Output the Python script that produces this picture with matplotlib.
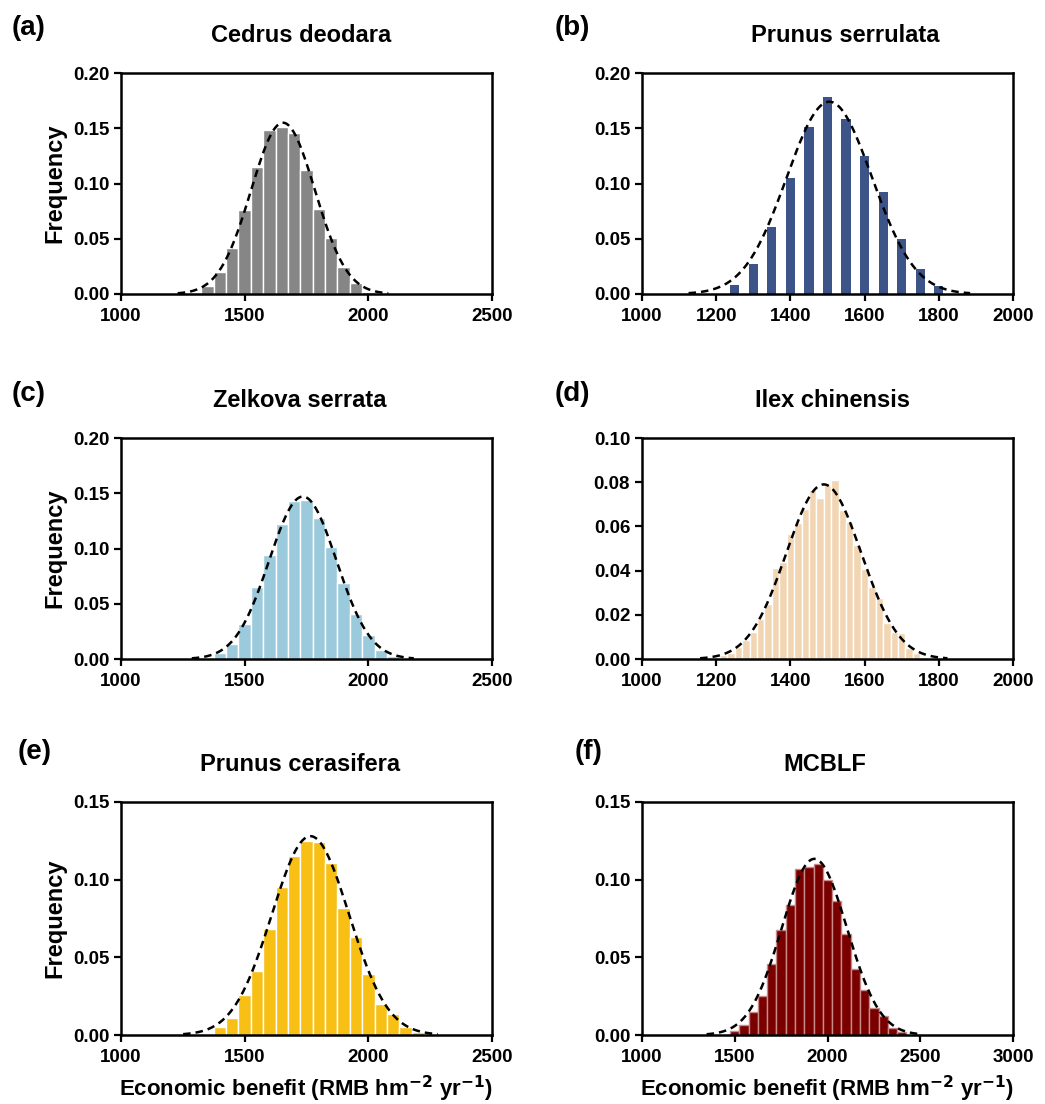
import numpy as np
import matplotlib.pyplot as plt
from matplotlib.ticker import FormatStrFormatter

plt.rcParams['font.family'] = ['Liberation Sans', 'DejaVu Sans']
plt.rcParams['font.weight'] = 'bold'
plt.rcParams['mathtext.default'] = 'bf'

# bin centres and frequencies
a_x = [1350, 1400, 1450, 1500, 1550, 1600, 1650, 1700, 1750, 1800, 1850, 1900, 1950, 2000]
a_y = [0.007, 0.020, 0.042, 0.076, 0.115, 0.148, 0.151, 0.146, 0.112, 0.077, 0.051, 0.024, 0.010, 0.002]

b_x = [1250, 1300, 1350, 1400, 1450, 1500, 1550, 1600, 1650, 1700, 1750, 1800]
b_y = [0.008, 0.027, 0.061, 0.105, 0.151, 0.178, 0.158, 0.125, 0.092, 0.050, 0.023, 0.007]

c_x = [1400, 1450, 1500, 1550, 1600, 1650, 1700, 1750, 1800, 1850, 1900, 1950, 2000, 2050, 2100]
c_y = [0.005, 0.014, 0.032, 0.065, 0.094, 0.122, 0.143, 0.144, 0.128, 0.101, 0.069, 0.041, 0.022, 0.008, 0.003]

d_x = [1220, 1240, 1260, 1280, 1300, 1320, 1340, 1360, 1380, 1400, 1420, 1440, 1460, 1480,
       1500, 1520, 1540, 1560, 1580, 1600, 1620, 1640, 1660, 1680, 1700, 1720, 1740, 1760]
d_y = [0.002, 0.0026, 0.0056, 0.0086, 0.012, 0.018, 0.025, 0.041, 0.044, 0.0566, 0.0615, 0.068, 0.0766, 0.0728,
       0.0789, 0.0808, 0.0675, 0.0622, 0.0517, 0.0406, 0.0325, 0.0275, 0.0162, 0.012, 0.0116, 0.0048, 0.0026, 0.001]

e_x = [1400, 1450, 1500, 1550, 1600, 1650, 1700, 1750, 1800, 1850, 1900, 1950, 2000, 2050, 2100, 2150, 2200]
e_y = [0.005, 0.011, 0.026, 0.041, 0.068, 0.095, 0.115, 0.125, 0.124, 0.111, 0.082, 0.063, 0.039, 0.020, 0.0135, 0.0054, 0.002]

f_x = [1500, 1550, 1600, 1650, 1700, 1750, 1800, 1850, 1900, 1950, 2000, 2050, 2100, 2150, 2200, 2250, 2300, 2350, 2400]
f_y = [0.0026, 0.0065, 0.0147, 0.0254, 0.0455, 0.0677, 0.084, 0.107, 0.108, 0.110, 0.0998, 0.0862, 0.0649, 0.0422,
       0.0289, 0.0177, 0.012, 0.0043, 0.0017]

# gaussian fit (peak, mean, sd) of the dashed curves
fits = [(0.155, 1655, 129), (0.174, 1505, 115), (0.147, 1735, 136),
        (0.079, 1490, 101), (0.128, 1766, 156), (0.1134, 1929, 176)]

titles = ['Cedrus deodara', 'Prunus serrulata', 'Zelkova serrata',
          'Ilex chinensis', 'Prunus cerasifera', 'MCBLF']
tags = ['(a)', '(b)', '(c)', '(d)', '(e)', '(f)']
colors = ['#868686', '#3C5488', '#9CCADD', '#F2D5B3', '#F8BF14', '#7A0000']

xs = [a_x, b_x, c_x, d_x, e_x, f_x]
ys = [a_y, b_y, c_y, d_y, e_y, f_y]
widths = [50, 25, 50, 20, 50, 50]
edges = ['white', 'white', 'white', 'white', 'white', '#C98A8A']
xlims = [(1000, 2500), (1000, 2000), (1000, 2500), (1000, 2000), (1000, 2500), (1000, 3000)]
xsteps = [500, 200, 500, 200, 500, 500]
ylims = [0.20, 0.20, 0.20, 0.10, 0.15, 0.15]
ysteps = [0.05, 0.05, 0.05, 0.02, 0.05, 0.05]

W, H = 1045, 1104
col_left = [121, 642]
rows = [(73, 294), (438, 659), (802, 1035)]
tag_pos = [(12, 28), (555, 28), (12, 394), (555, 394), (18, 752), (575, 752)]
title_x = [301, 845, 300, 832, 300, 825]

fig = plt.figure(figsize=(W / 100, H / 100), dpi=100)

for i in range(6):
    r, c = i // 2, i % 2
    top, bot = rows[r]
    ax = fig.add_axes([col_left[c] / W, 1 - bot / H, 371 / W, (bot - top) / H])

    ax.bar(xs[i], ys[i], width=widths[i], color=colors[i], edgecolor=edges[i],
           linewidth=1.0 if i != 1 else 0.0, zorder=2)

    amp, mu, sd = fits[i]
    xx = np.linspace(mu - 3.3 * sd, mu + 3.3 * sd, 400)
    ax.plot(xx, amp * np.exp(-0.5 * ((xx - mu) / sd) ** 2), color='black',
            linestyle=(0, (3, 2)), linewidth=1.8, zorder=3)

    ax.set_xlim(*xlims[i])
    ax.set_ylim(0, ylims[i])
    ax.set_xticks(np.arange(xlims[i][0], xlims[i][1] + 1, xsteps[i]))
    ax.set_yticks(np.arange(0, ylims[i] + 1e-9, ysteps[i]))
    ax.yaxis.set_major_formatter(FormatStrFormatter('%.2f'))
    ax.tick_params(labelsize=13.5, width=1.6, length=5, direction='out')
    ax.tick_params(axis='x', pad=5)
    for lab in ax.get_xticklabels() + ax.get_yticklabels():
        lab.set_fontweight('bold')
    for s in ax.spines.values():
        s.set_linewidth(1.8)

    ax.set_title(titles[i], fontsize=17, fontweight='bold', pad=22,
                 x=(title_x[i] - col_left[c]) / 371)
    tx, ty = tag_pos[i]
    fig.text(tx / W, 1 - ty / H, tags[i], fontsize=20, fontweight='bold',
             va='center', ha='left')

    if c == 0:
        ax.set_ylabel('Frequency', fontsize=17, fontweight='bold', labelpad=5)
    if r == 2:
        ax.set_xlabel('Economic benefit (RMB hm$^{-2}$ yr$^{-1}$)',
                      fontsize=16, fontweight='bold', labelpad=6)

fig.savefig('out.png', dpi=100)
